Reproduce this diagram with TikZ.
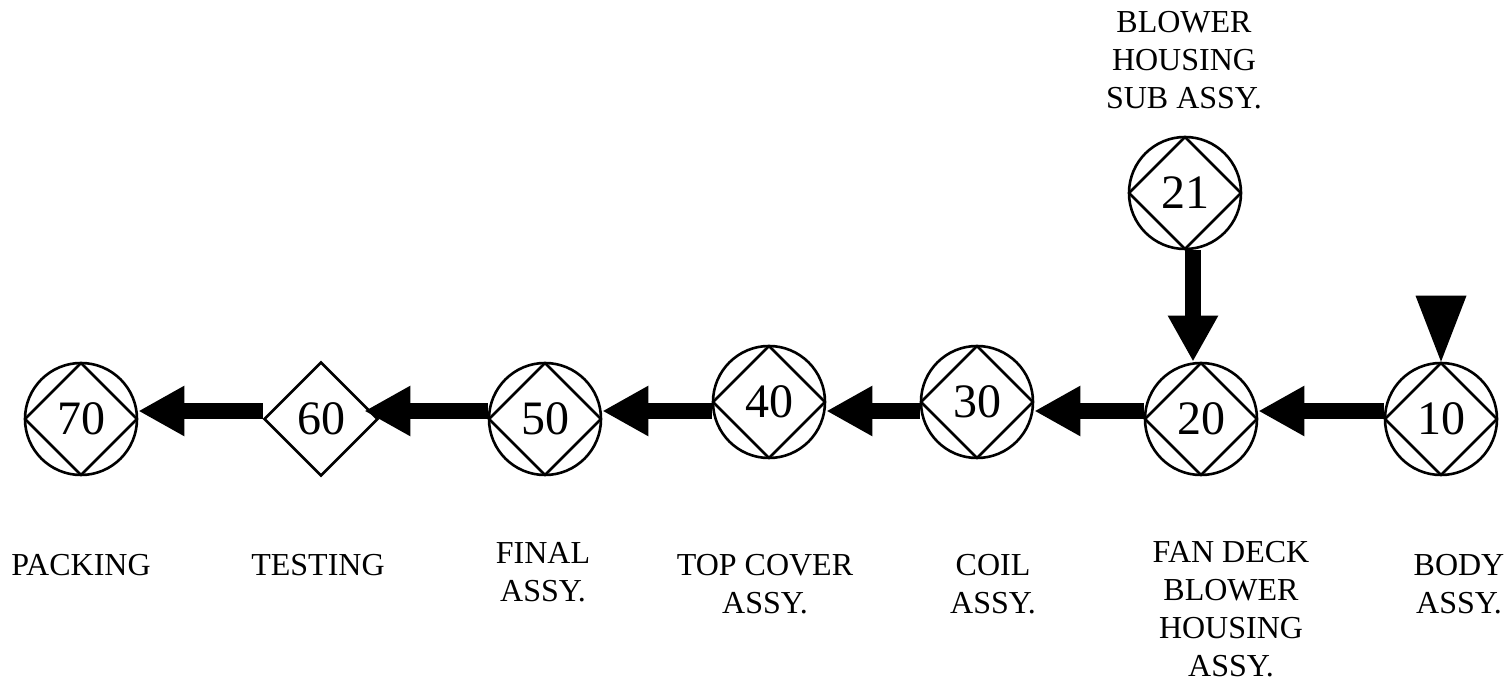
\documentclass[tikz,border=0pt]{standalone}
\usepackage{fontspec}
\setmainfont{Liberation Serif}
\usetikzlibrary{arrows.meta,shapes.geometric}

\begin{document}
\begin{tikzpicture}[x=0.5pt,y=-0.5pt,
  op/.style={circle,draw,line width=1.3pt,minimum size=56pt,inner sep=0pt,
    font=\fontsize{24}{28}\selectfont,
    path picture={\draw[line width=1.3pt] (path picture bounding box.north)
      -- (path picture bounding box.east) -- (path picture bounding box.south)
      -- (path picture bounding box.west) -- cycle;}},
  insp/.style={diamond,draw,line width=1.3pt,minimum size=57pt,inner sep=0pt,
    font=\fontsize{24}{28}\selectfont},
  lbl/.style={align=center,font=\fontsize{16}{19}\selectfont},
  flow/.style={line width=8pt,-{Triangle[length=23pt,width=23.5pt]}}]
  \useasboundingbox (0,0) rectangle (1505,683);
  \coordinate (rowline) at (0,411);
  \coordinate (dropline) at (1193,0);

  \node[op] (n70) at (81,419) {70};
  \node[insp] (n60) at (321,419) {60};
  \node[op] (n50) at (545,419) {50};
  \node[op] (n40) at (769,402) {40};
  \node[op] (n30) at (977,402) {30};
  \node[op] (n20) at (1201,419) {20};
  \node[op] (n10) at (1441,419) {10};
  \node[op] (n21) at (1185,193) {21};

  \draw[flow] (n10.west |- rowline) -- (n20.east |- rowline);
  \draw[flow] (n20.west |- rowline) -- (n30.east |- rowline);
  \draw[flow] (n30.west |- rowline) -- (n40.east |- rowline);
  \draw[flow] (n40.west |- rowline) -- (n50.east |- rowline);
  \draw[flow] (n50.west |- rowline) -- ([xshift=-7.5pt]n60.east |- rowline);
  \draw[flow] (n60.west |- rowline) -- (n70.east |- rowline);
  \draw[flow] (n21.south -| dropline) -- (n20.north -| dropline);
  \fill ([xshift=-12.75pt,yshift=33pt]n10.north)
    -- ([xshift=12.75pt,yshift=33pt]n10.north) -- (n10.north) -- cycle;

  \node[lbl] (t21) at (1184,60) {BLOWER\\HOUSING\\SUB ASSY.};
  \node[lbl] (t70) at (81,565) {PACKING};
  \node[lbl] (t60) at (318,565) {TESTING};
  \node[lbl] (t50) at (543,572) {FINAL\\ASSY.};
  \node[lbl] (t40) at (765,584) {TOP COVER\\ASSY.};
  \node[lbl] (t30) at (993,584) {COIL\\ASSY.};
  \node[lbl] (t20) at (1231,609) {FAN DECK\\BLOWER\\HOUSING\\ASSY.};
  \node[lbl] (t10) at (1459,584) {BODY\\ASSY.};
\end{tikzpicture}
\end{document}
